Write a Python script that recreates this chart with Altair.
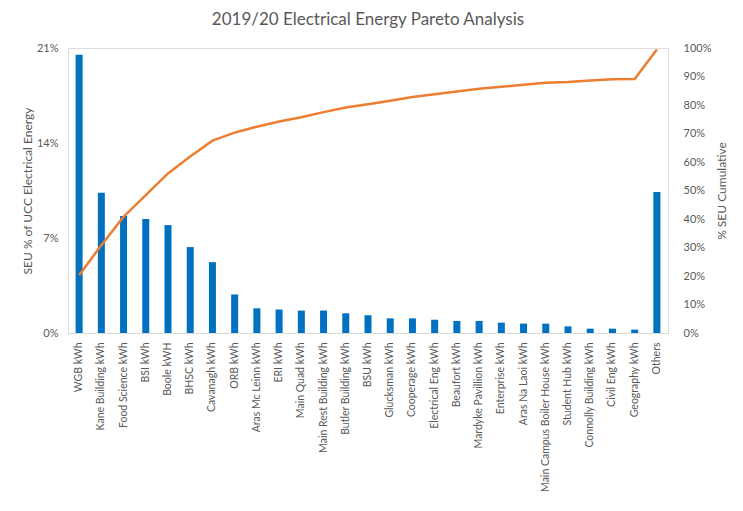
import altair as alt
import pandas as pd

categories = [
    "WGB kWh", "Kane Building kWh", "Food Science kWh", "BSI kWh", "Boole kWH",
    "BHSC kWh", "Cavanagh kWh", "ORB kWh", "Aras Mc Leinn kWh", "ERI kWh",
    "Main Quad kWh", "Main Rest Building kWh", "Butler Building kWh", "BSU kWh",
    "Glucksman kWh", "Cooperage kWh", "Electrical Eng kWh", "Beaufort kWh",
    "Mardyke Pavillion kWh", "Enterprise kWh", "Aras Na Laoi kWh",
    "Main Campus Boiler House kWh", "Student Hub kWh", "Connolly Building kWh",
    "Civil Eng kWh", "Geography kWh", "Others",
]

# share of UCC electrical energy (fraction)
seu_share = [
    0.205, 0.1034, 0.0862, 0.084, 0.0795, 0.0633, 0.0522, 0.0284, 0.0182,
    0.0173, 0.0165, 0.0165, 0.0145, 0.0131, 0.0108, 0.0108, 0.0098, 0.0089,
    0.0089, 0.0076, 0.0069, 0.0069, 0.0049, 0.0032, 0.0032, 0.0025, 0.1039,
]

# cumulative share (fraction)
cumulative = [
    0.203, 0.308, 0.408, 0.484, 0.560, 0.619, 0.675, 0.703, 0.724, 0.742,
    0.757, 0.775, 0.791, 0.803, 0.815, 0.828, 0.838, 0.847, 0.857, 0.864,
    0.871, 0.878, 0.881, 0.886, 0.890, 0.891, 0.995,
]

df = pd.DataFrame({"cat": categories, "seu": seu_share, "cum": cumulative})

FONT = "Lato"
GREY = "#595959"

x_enc = alt.X(
    "cat:N",
    sort=categories,
    title=None,
    scale=alt.Scale(paddingInner=0, paddingOuter=0),
    axis=alt.Axis(
        labelAngle=-90,
        labelFontSize=10.5,
        labelColor=GREY,
        labelFont=FONT,
        labelPadding=9,
        ticks=False,
        tickSize=0,
        domainColor="#d9d9d9",
        domainWidth=1,
        grid=False,
    ),
)

bars = alt.Chart(df).mark_bar(color="#0070C0", size=7).encode(
    x=x_enc,
    y=alt.Y(
        "seu:Q",
        scale=alt.Scale(domain=[0, 0.21], nice=False),
        axis=alt.Axis(
            values=[0, 0.07, 0.14, 0.21],
            format=".0%",
            title="SEU % of UCC Electrical Energy",
            titleFontSize=12,
            titleFontWeight="normal",
            titleColor=GREY,
            titleFont=FONT,
            titlePadding=2,
            labelFontSize=11,
            labelColor=GREY,
            labelFont=FONT,
            labelPadding=10,
            ticks=False,
            tickSize=0,
            domain=False,
            grid=False,
        ),
    ),
)

line = alt.Chart(df).mark_line(color="#ED7D31", strokeWidth=2.5).encode(
    x=x_enc,
    y=alt.Y(
        "cum:Q",
        scale=alt.Scale(domain=[0, 1], nice=False),
        axis=alt.Axis(
            orient="right",
            values=[i / 10 for i in range(11)],
            format=".0%",
            title="% SEU Cumulative",
            titleAngle=-90,
            titleFontSize=12,
            titleFontWeight="normal",
            titleColor=GREY,
            titleFont=FONT,
            titlePadding=18,
            labelFontSize=11,
            labelColor=GREY,
            labelFont=FONT,
            labelPadding=15,
            ticks=False,
            tickSize=0,
            domain=False,
            grid=False,
        ),
    ),
)

chart = (
    alt.layer(bars, line)
    .resolve_scale(y="independent")
    .properties(
        width=600,
        height=285,
        autosize=alt.AutoSizeParams(type="none"),
        padding={"left": 60, "top": 40, "right": 60, "bottom": 175},
        title=alt.TitleParams(
            "2019/20 Electrical Energy Pareto Analysis",
            font=FONT,
            fontSize=17,
            fontWeight="normal",
            color=GREY,
            offset=13,
        ),
    )
    .configure_view(stroke=None)
    .configure(background="white")
)

chart.save("out.html", embed_options={"renderer": "svg", "actions": False})
